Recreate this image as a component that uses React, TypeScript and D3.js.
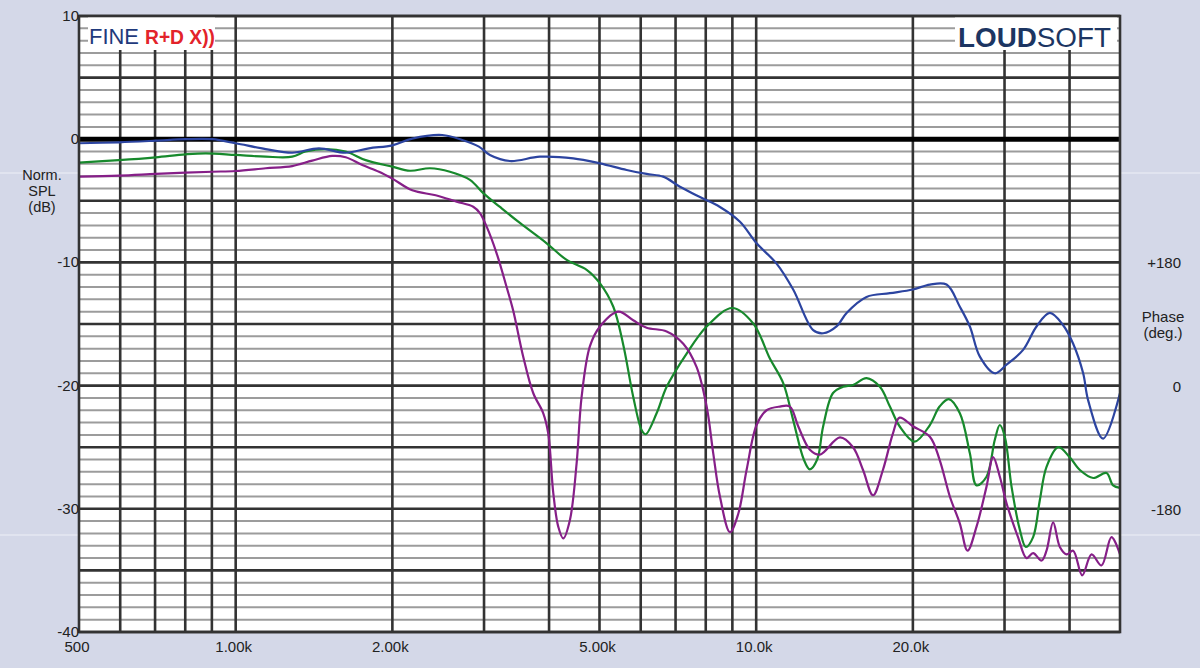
import React from "react";
import * as d3 from "d3";

// ---- data (frequency in Hz, level in dB) ----
const blueFreq = [500, 597, 702, 801, 902, 1000, 1142, 1284, 1445, 1627, 1803, 2000, 2184, 2494, 2724, 2933, 3079, 3364, 3842, 4452, 5011, 5639, 6158, 6629, 7137, 7797, 8518, 9308, 10018, 10944, 11778, 12868, 13450, 14271, 14916, 16295, 18067, 20000, 21561, 23214, 24621, 25735, 26899, 28740, 30266, 32573, 34561, 36654, 38884, 40642, 42481, 43432, 46397, 50000];
const blueDb = [-0.33, -0.25, -0.12, 0, 0, -0.33, -0.8, -1.1, -0.74, -1.1, -0.74, -0.5, 0.05, 0.34, -0.06, -0.6, -1.28, -1.77, -1.42, -1.55, -1.96, -2.5, -2.82, -3.04, -3.86, -4.7, -5.5, -6.7, -8.45, -10.1, -12.2, -15.5, -15.75, -15.2, -14.1, -12.8, -12.5, -12.2, -11.8, -11.8, -13.6, -15.2, -17.65, -19.0, -18.3, -17.1, -15.2, -14.1, -15.1, -16.6, -19.0, -21.2, -24.3, -20.6];

const greenFreq = [500, 597, 702, 801, 876, 1000, 1142, 1284, 1363, 1489, 1627, 1777, 2000, 2162, 2362, 2580, 2819, 2993, 3219, 3516, 3958, 4324, 4724, 5011, 5315, 5555, 5804, 6024, 6131, 6437, 6730, 7352, 8032, 9000, 9868, 10625, 11270, 11778, 12344, 12676, 13097, 13450, 14049, 14685, 15349, 16295, 17285, 18067, 18858, 20151, 21561, 22505, 23451, 24621, 25735, 26506, 27703, 28740, 29383, 30040, 30945, 32101, 32963, 34045, 35069, 36124, 38050, 40000, 41866, 44401, 47102, 48498, 50000];
const greenDb = [-1.9, -1.7, -1.47, -1.23, -1.15, -1.28, -1.42, -1.42, -1.0, -0.8, -1.0, -1.7, -2.23, -2.56, -2.36, -2.64, -3.3, -4.4, -5.5, -6.8, -8.45, -9.8, -10.6, -11.7, -13.6, -16.7, -20.9, -23.6, -23.95, -22.25, -20.1, -17.4, -15.2, -13.7, -14.95, -17.8, -19.8, -22.8, -26.0, -26.8, -26.0, -23.3, -20.6, -20.1, -19.95, -19.4, -20.1, -21.7, -23.3, -24.55, -23.2, -21.7, -21.1, -22.25, -25.5, -28.1, -27.4, -24.4, -23.2, -24.15, -28.2, -31.7, -33.1, -32.3, -29.3, -26.6, -25.0, -25.8, -26.85, -27.5, -27.1, -28.1, -28.3];

const purpleFreq = [500, 597, 702, 801, 902, 1000, 1142, 1284, 1403, 1533, 1627, 1751, 1885, 2000, 2184, 2422, 2658, 2860, 2946, 3035, 3172, 3315, 3413, 3568, 3729, 3899, 3986, 4075, 4166, 4259, 4387, 4519, 4620, 4793, 5011, 5434, 5804, 6158, 6730, 7243, 7684, 8032, 8270, 8518, 8905, 9238, 9584, 10018, 10471, 11106, 11608, 12042, 12681, 13255, 14481, 15349, 16043, 16768, 17517, 18308, 18858, 20000, 21561, 22505, 23552, 24621, 25470, 26506, 27703, 28526, 29383, 30266, 31846, 33065, 34045, 35346, 36124, 37197, 38320, 39472, 40642, 42296, 44088, 46068, 48150, 50000];
const purpleDb = [-3.04, -2.96, -2.82, -2.72, -2.64, -2.58, -2.36, -2.18, -1.74, -1.36, -1.47, -2.1, -2.64, -3.2, -4.15, -4.55, -5.07, -5.48, -6.0, -7.1, -9.26, -12.0, -13.9, -17.65, -20.6, -22.25, -23.9, -28.7, -31.45, -32.4, -30.9, -26.3, -20.9, -16.8, -15.2, -14.0, -14.7, -15.3, -15.6, -16.6, -18.5, -21.7, -25.5, -29.0, -31.9, -30.4, -26.85, -23.2, -22.0, -21.7, -21.7, -23.3, -25.2, -25.6, -24.2, -25.0, -26.85, -28.9, -26.85, -23.9, -22.6, -23.3, -24.15, -26.0, -29.0, -31.2, -33.4, -31.45, -28.2, -25.8, -27.4, -29.55, -32.3, -34.0, -33.6, -34.2, -33.4, -31.1, -33.1, -33.7, -33.4, -35.4, -33.7, -34.6, -32.3, -33.7];

const xTickValues = [500, 1000, 2000, 5000, 10000, 20000];
const xTickLabels = ["500", "1.00k", "2.00k", "5.00k", "10.0k", "20.0k"];
const xGridValues = [600, 700, 800, 900, 1000, 2000, 3000, 4000, 5000, 6000, 7000, 8000, 9000, 10000, 20000, 30000, 40000];
const yTickValues = [10, 0, -10, -20, -30, -40];
const phaseTickValues = [180, 0, -180];
const phaseTickLabels = ["+180", "0", "-180"];

const W = 1200;
const H = 668;
const L = 79, R = 1120, T = 16, B = 632;
const FONT = "'Liberation Sans', Arial, sans-serif";

export default function App() {
  const x = d3.scaleLog().domain([500, 50000]).range([L, R]);
  const y = d3.scaleLinear().domain([-40, 10]).range([B, T]);
  const yPhase = d3.scaleLinear().domain([-360, 540]).range([B, T]);

  const line = d3
    .line<[number, number]>()
    .x((d) => x(d[0]))
    .y((d) => y(d[1]))
    .curve(d3.curveCatmullRom.alpha(0.5));

  const series = [
    { f: greenFreq, v: greenDb, color: "#17892c" },
    { f: purpleFreq, v: purpleDb, color: "#861f88" },
    { f: blueFreq, v: blueDb, color: "#2c44a0" },
  ];

  const dbLines = d3.range(-40, 11, 1);

  return (
    <svg width={W} height={H} style={{ position: "absolute", left: 0, top: 0 }} fontFamily={FONT}>
      <rect x={0} y={0} width={W} height={H} fill="#d4d8e8" />
      <line x1={0} x2={L} y1={173} y2={173} stroke="#eef0f7" strokeWidth={1} />
      <line x1={R} x2={W} y1={173} y2={173} stroke="#eef0f7" strokeWidth={1} />
      <line x1={0} x2={L} y1={535} y2={535} stroke="#eef0f7" strokeWidth={1} />
      <line x1={R} x2={W} y1={535} y2={535} stroke="#eef0f7" strokeWidth={1} />
      <rect x={L} y={T} width={R - L} height={B - T} fill="#ffffff" />

      {/* minor horizontal grid */}
      {dbLines.filter((d) => d % 5 !== 0).map((d) => (
        <line key={"m" + d} x1={L} x2={R} y1={y(d)} y2={y(d)} stroke="#9c9c9c" strokeWidth={2} />
      ))}
      {/* major horizontal grid */}
      {dbLines.filter((d) => d % 5 === 0 && d !== 0).map((d) => (
        <line key={"M" + d} x1={L} x2={R} y1={y(d)} y2={y(d)} stroke="#333333" strokeWidth={2.6} />
      ))}
      {/* vertical grid */}
      {xGridValues.map((f) => (
        <line key={"v" + f} x1={x(f)} x2={x(f)} y1={T} y2={B} stroke="#333333" strokeWidth={2.6} />
      ))}
      {/* zero line */}
      <line x1={L} x2={R} y1={y(0)} y2={y(0)} stroke="#000000" strokeWidth={5} />

      {/* curves */}
      {series.map((s, i) => (
        <path
          key={i}
          d={line(s.f.map((f, j) => [f, s.v[j]] as [number, number])) || ""}
          fill="none"
          stroke={s.color}
          strokeWidth={2.2}
          strokeLinejoin="round"
        />
      ))}

      {/* logo boxes */}
      <rect x={88} y={T + 1} width={127} height={33} fill="#ffffff" />
      <rect x={955} y={T + 1} width={162} height={33} fill="#ffffff" />
      <text x={89} y={44} fontSize={22} fill="#1f3a7c" textLength={50} lengthAdjust="spacingAndGlyphs">FINE</text>
      <text x={145} y={44} fontSize={21} fontWeight="bold" fill="#e3232a" textLength={70} lengthAdjust="spacingAndGlyphs">R+D X))</text>
      <text x={958} y={47} fontSize={27} fill="#1c3562" textLength={153} lengthAdjust="spacingAndGlyphs">
        <tspan fontWeight="bold">LOUD</tspan>
        <tspan>SOFT</tspan>
      </text>

      {/* frame */}
      <rect x={L} y={T} width={R - L} height={B - T} fill="none" stroke="#333333" strokeWidth={2.6} />

      {/* left axis */}
      {yTickValues.map((d) => (
        <text key={"yt" + d} x={L} y={y(d) + 5} fontSize={15} textAnchor="end" fill="#222">
          {d}
        </text>
      ))}
      <text x={42} y={180} fontSize={14.5} textAnchor="middle" fill="#222">Norm.</text>
      <text x={42} y={196} fontSize={14.5} textAnchor="middle" fill="#222">SPL</text>
      <text x={42} y={212} fontSize={14.5} textAnchor="middle" fill="#222">(dB)</text>

      {/* bottom axis */}
      {xTickValues.map((f, i) => (
        <text key={"xt" + f} x={x(f) - 2} y={652} fontSize={15} textAnchor="middle" fill="#222">
          {xTickLabels[i]}
        </text>
      ))}

      {/* right axis (phase) */}
      {phaseTickValues.map((p, i) => (
        <text key={"pt" + p} x={1181} y={yPhase(p) + 6} fontSize={15} textAnchor="end" fill="#222">
          {phaseTickLabels[i]}
        </text>
      ))}
      <text x={1163} y={322} fontSize={15} textAnchor="middle" fill="#222">Phase</text>
      <text x={1163} y={338} fontSize={15} textAnchor="middle" fill="#222">(deg.)</text>
    </svg>
  );
}
